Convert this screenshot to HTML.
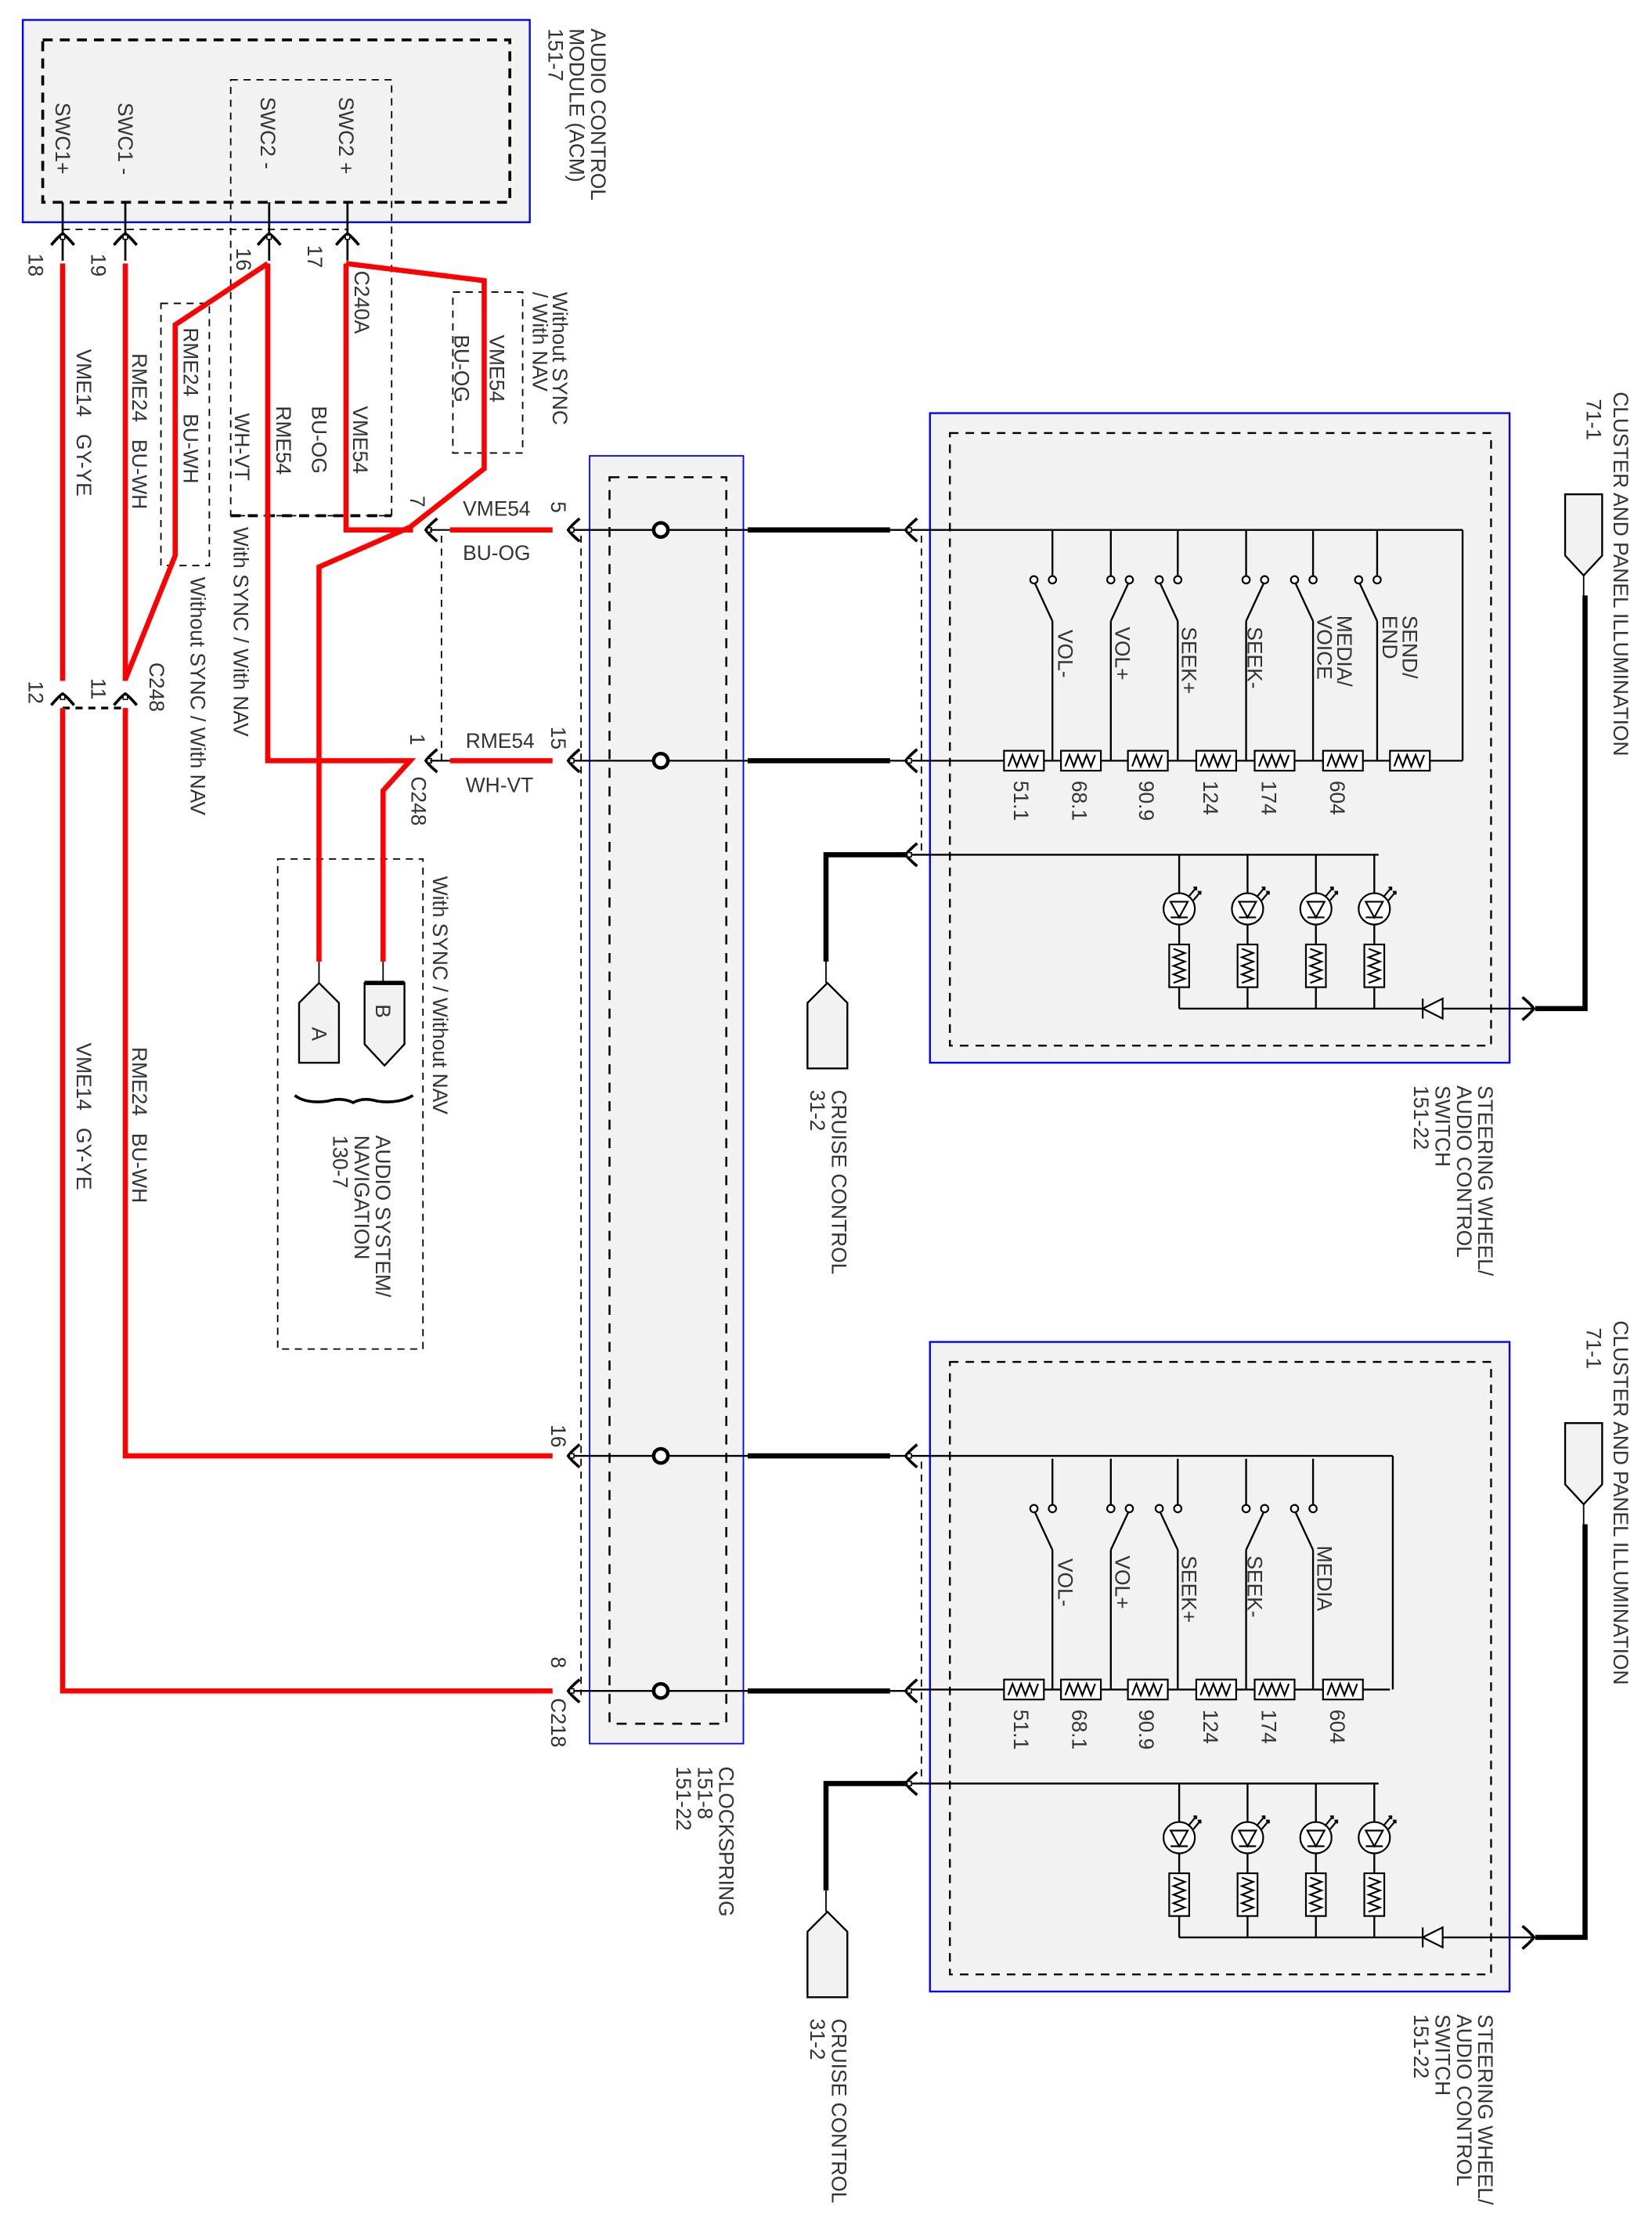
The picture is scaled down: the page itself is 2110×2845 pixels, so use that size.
<!DOCTYPE html>
<html><head><meta charset="utf-8"><style>
html,body{margin:0;padding:0;background:#fff}
svg{display:block}
text{font-family:"Liberation Sans",sans-serif;fill:#333;font-size:14.5px;white-space:pre}
</style></head><body>
<svg width="2110" height="2845" viewBox="0 0 1160 1564" preserveAspectRatio="none" xmlns="http://www.w3.org/2000/svg">
<defs>
<g id="rh"><rect x="-14" y="-7" width="28" height="14" fill="#fff" stroke="#000" stroke-width="1.2"/><polyline points="-11,4 -8,-4 -5,4 -2,-4 1,4 4,-4 7,4 10,-4" fill="none" stroke="#000" stroke-width="1.2"/></g>
<g id="rv"><rect x="-7" y="-15" width="14" height="30" fill="#fff" stroke="#000" stroke-width="1.2"/><polyline points="-4,-12 4,-9 -4,-6 4,-3 -4,0 4,3 -4,6 4,9 -4,12" fill="none" stroke="#000" stroke-width="1.2"/></g>
<g id="led"><circle r="11" fill="#fff" stroke="#000" stroke-width="1.2"/><polygon points="-6,-5 6,-5 0,6" fill="#fff" stroke="#000" stroke-width="1.2"/><line x1="-6" y1="6" x2="6" y2="6" stroke="#000" stroke-width="1.2"/><path d="M7,-9 L12,-15 M10,-6 L15,-12 M10,-15 L12,-15 L12,-13 M13,-12 L15,-12 L15,-10" stroke="#000" stroke-width="1.2" fill="none"/></g>
<g id="fl"><path d="M7,-8 Q1,-3 -1,0 Q1,3 7,8" fill="none" stroke="#000" stroke-width="2"/><rect x="0" y="-1.5" width="3" height="3" fill="#fff" stroke="#000" stroke-width=".8"/></g>
<g id="fr"><path d="M-7,-8 Q-1,-3 1,0 Q-1,3 -7,8" fill="none" stroke="#000" stroke-width="2"/></g>
<g id="fu"><path d="M-8,7 Q-3,1 0,-1 Q3,1 8,7" fill="none" stroke="#000" stroke-width="2"/><rect x="-1.5" y="0" width="3" height="3" fill="#fff" stroke="#000" stroke-width=".8"/></g>
</defs>

<!-- ACM -->
<rect x="16" y="14" width="356" height="142" fill="#f2f2f2" stroke="#0000ff" stroke-width="1.3"/>
<rect x="30" y="28" width="328" height="114" fill="none" stroke="#000" stroke-width="2" stroke-dasharray="7,5"/>
<rect x="162" y="56" width="113" height="306" fill="none" stroke="#000" stroke-width="1" stroke-dasharray="5,4"/>
<line x1="162" y1="362" x2="275" y2="362" stroke="#000" stroke-width="2" stroke-dasharray="7,5"/>
<g stroke="#000" stroke-width="1.5"><line x1="44" y1="142" x2="44" y2="183"/><line x1="88" y1="142" x2="88" y2="183"/><line x1="189" y1="142" x2="189" y2="183"/><line x1="244" y1="142" x2="244" y2="183"/></g>
<line x1="44" y1="161" x2="244" y2="161" stroke="#000" stroke-width="1" stroke-dasharray="5,4"/>
<use href="#fu" x="44" y="165"/><use href="#fu" x="88" y="165"/><use href="#fu" x="189" y="165"/><use href="#fu" x="244" y="165"/>
<g transform="translate(39,72) rotate(90)"><text>SWC1+</text></g>
<g transform="translate(83,72) rotate(90)"><text>SWC1 -</text></g>
<g transform="translate(183,68) rotate(90)"><text>SWC2 -</text></g>
<g transform="translate(238,68) rotate(90)"><text>SWC2 +</text></g>
<g transform="translate(415,20) rotate(90)"><text>AUDIO CONTROL</text></g>
<g transform="translate(400,20) rotate(90)"><text>MODULE (ACM)</text></g>
<g transform="translate(385,20) rotate(90)"><text>151-7</text></g>
<g transform="translate(20,178) rotate(90)"><text font-size="12">18</text></g>
<g transform="translate(64,178) rotate(90)"><text font-size="12">19</text></g>
<g transform="translate(166,174) rotate(90)"><text font-size="12">16</text></g>
<g transform="translate(216,172) rotate(90)"><text font-size="12">17</text></g>

<!-- dashed option boxes -->
<g fill="none" stroke="#000" stroke-width="1" stroke-dasharray="5,4">
<rect x="113" y="213" width="34" height="184"/>
<rect x="318" y="205" width="49" height="113"/>
<rect x="195" y="603" width="102" height="344"/>
<line x1="44" y1="497" x2="88" y2="497" stroke-width="1.8"/>
<line x1="310" y1="376" x2="310" y2="534"/>
<line x1="408" y1="376" x2="408" y2="1190"/>
<line x1="647" y1="376" x2="647" y2="600"/>
<line x1="647" y1="1026" x2="647" y2="1252"/>
</g>

<!-- red wires -->
<g fill="none" stroke="#ff0000" stroke-width="3.6" stroke-linejoin="miter">
<polyline points="44,185 44,478"/>
<polyline points="44,497 44,1187 388,1187"/>
<polyline points="88,185 88,478"/>
<polyline points="88,497 88,1022 388,1022"/>
<polyline points="188,185 123,228 123,390 88,477"/>
<polyline points="188,185 188,534 288,534 269,555 269,675"/>
<polyline points="243,185 243,372 290,372"/>
<polyline points="243,185 340,197 340,329 288,370 224,398 224,675"/>
<line x1="316" y1="372" x2="388" y2="372"/>
<line x1="316" y1="534" x2="388" y2="534"/>
</g>
<use href="#fu" x="44" y="488"/><use href="#fu" x="88" y="488"/>
<use href="#fl" x="300" y="372"/><use href="#fl" x="300" y="534"/>
<line x1="302" y1="372" x2="316" y2="372" stroke="#000" stroke-width="1.2"/>
<line x1="302" y1="534" x2="316" y2="534" stroke="#000" stroke-width="1.2"/>

<!-- red region labels -->
<g transform="translate(54,245) rotate(90)"><text>VME14   GY-YE</text></g>
<g transform="translate(93,248) rotate(90)"><text>RME24   BU-WH</text></g>
<g transform="translate(129,230) rotate(90)"><text>RME24   BU-WH</text></g>
<g transform="translate(165,290) rotate(90)"><text>WH-VT</text></g>
<g transform="translate(194,285) rotate(90)"><text>RME54</text></g>
<g transform="translate(219,285) rotate(90)"><text>BU-OG</text></g>
<g transform="translate(248,285) rotate(90)"><text>VME54</text></g>
<g transform="translate(249,190) rotate(90)"><text>C240A</text></g>
<g transform="translate(344,235) rotate(90)"><text>VME54</text></g>
<g transform="translate(319,235) rotate(90)"><text>BU-OG</text></g>
<g transform="translate(388,205) rotate(90)"><text>Without SYNC</text></g>
<g transform="translate(374,205) rotate(90)"><text>/ With NAV</text></g>
<g transform="translate(134,405) rotate(90)"><text>Without SYNC / With NAV</text></g>
<g transform="translate(164,370) rotate(90)"><text>With SYNC / With NAV</text></g>
<g transform="translate(105,465) rotate(90)"><text>C248</text></g>
<g transform="translate(289,545) rotate(90)"><text>C248</text></g>
<g transform="translate(20,478) rotate(90)"><text font-size="12">12</text></g>
<g transform="translate(64,476) rotate(90)"><text font-size="12">11</text></g>
<g transform="translate(54,732) rotate(90)"><text>VME14   GY-YE</text></g>
<g transform="translate(93,735) rotate(90)"><text>RME24   BU-WH</text></g>
<text x="325" y="362">VME54</text>
<text x="325" y="393">BU-OG</text>
<text x="327" y="525">RME54</text>
<text x="327" y="556">WH-VT</text>
<g transform="translate(288,348) rotate(90)"><text font-size="12">7</text></g>
<g transform="translate(387,352) rotate(90)"><text font-size="12">5</text></g>
<g transform="translate(288,515) rotate(90)"><text font-size="12">1</text></g>
<g transform="translate(387,510) rotate(90)"><text font-size="12">15</text></g>
<g transform="translate(387,1000) rotate(90)"><text font-size="12">16</text></g>
<g transform="translate(387,1163) rotate(90)"><text font-size="12">8</text></g>
<g transform="translate(387,1192) rotate(90)"><text font-size="13">C218</text></g>

<!-- A / B connectors -->
<line x1="224" y1="675" x2="224" y2="690" stroke="#000" stroke-width="1"/>
<line x1="269" y1="675" x2="269" y2="690" stroke="#000" stroke-width="1"/>
<polygon points="210,704 224,690 238,704 238,746 210,746" fill="#f2f2f2" stroke="#000" stroke-width="1.3"/>
<polygon points="256,690 284,690 284,733 270,748 256,733" fill="#f2f2f2" stroke="#000" stroke-width="1.3"/>
<line x1="256" y1="690" x2="284" y2="690" stroke="#000" stroke-width="3"/>
<g transform="translate(219,721) rotate(90)"><text font-size="12">A</text></g>
<g transform="translate(264,705) rotate(90)"><text font-size="12">B</text></g>
<path d="M207,769 Q215,775 230,773 Q240,770 248,774 Q255,770 265,773 Q280,775 290,769" fill="none" stroke="#000" stroke-width="2"/>
<g transform="translate(264,797) rotate(90)"><text>AUDIO SYSTEM/</text></g>
<g transform="translate(249,797) rotate(90)"><text>NAVIGATION</text></g>
<g transform="translate(234,797) rotate(90)"><text>130-7</text></g>
<g transform="translate(304,615) rotate(90)"><text>With SYNC / Without NAV</text></g>

<!-- Clockspring -->
<rect x="414" y="320" width="108" height="904" fill="#f2f2f2" stroke="#0000ff" stroke-width="1"/>
<rect x="428" y="335" width="82" height="875" fill="none" stroke="#000" stroke-width="1.4" stroke-dasharray="7,6"/>
<g transform="translate(505,1240) rotate(90)"><text>CLOCKSPRING</text></g>
<g transform="translate(490,1240) rotate(90)"><text>151-8</text></g>
<g transform="translate(475,1240) rotate(90)"><text>151-22</text></g>

<g id="cs">
<line x1="400" y1="372" x2="525" y2="372" stroke="#000" stroke-width="1.3"/>
<line x1="525" y1="372" x2="625" y2="372" stroke="#000" stroke-width="3.6"/>
<line x1="625" y1="372" x2="640" y2="372" stroke="#000" stroke-width="1.3"/>
<circle cx="464" cy="372" r="5" fill="#fff" stroke="#000" stroke-width="2.5"/>
<use href="#fl" x="400" y="372"/><use href="#fl" x="637" y="372"/>
</g>
<use href="#cs" y="162"/><use href="#cs" y="650"/><use href="#cs" y="815"/>

<!-- Switch module 1 -->
<g id="mod">
<rect x="653" y="290" width="407" height="456" fill="#f2f2f2" stroke="#0000ff" stroke-width="1.3"/>
<rect x="667" y="304" width="380" height="430" fill="none" stroke="#000" stroke-width="1.3" stroke-dasharray="6,5"/>
<line x1="640" y1="600" x2="968" y2="600" stroke="#000" stroke-width="1.3"/>
<use href="#fl" x="637" y="600"/>
<polyline points="637,600 580,600 580,675" fill="none" stroke="#000" stroke-width="3.6"/>
<line x1="580" y1="675" x2="580" y2="690" stroke="#000" stroke-width="1"/>
<polygon points="567,704 581,690 595,704 595,750 567,750" fill="#f2f2f2" stroke="#000" stroke-width="1.3"/>
<g transform="translate(584,765) rotate(90)"><text>CRUISE CONTROL</text></g>
<g transform="translate(569,765) rotate(90)"><text>31-2</text></g>
<g stroke="#000" stroke-width="1.3" fill="none">
<line x1="828" y1="600" x2="828" y2="708"/><line x1="876" y1="600" x2="876" y2="708"/><line x1="924" y1="600" x2="924" y2="708"/><line x1="965" y1="600" x2="965" y2="708"/>
<line x1="828" y1="708" x2="1076" y2="708"/>
</g>
<use href="#led" x="828" y="638"/><use href="#led" x="876" y="638"/><use href="#led" x="924" y="638"/><use href="#led" x="965" y="638"/>
<use href="#rv" x="828" y="678"/><use href="#rv" x="876" y="678"/><use href="#rv" x="924" y="678"/><use href="#rv" x="965" y="678"/>
<polygon points="1013,701 1013,715 999,708" fill="#fff" stroke="#000" stroke-width="1.2"/><line x1="999" y1="701" x2="999" y2="715" stroke="#000" stroke-width="1.2"/>
<use href="#fr" x="1076" y="708"/>
<polyline points="1078,708 1113,708 1113,418" fill="none" stroke="#000" stroke-width="3.6"/>
<line x1="1112" y1="404" x2="1112" y2="420" stroke="#000" stroke-width="1"/>
<polygon points="1099,347 1125,347 1125,390 1112,404 1099,390" fill="#f2f2f2" stroke="#000" stroke-width="1.3"/>
<g transform="translate(1133,275) rotate(90)"><text>CLUSTER AND PANEL ILLUMINATION</text></g>
<g transform="translate(1114,280) rotate(90)"><text>71-1</text></g>
<g transform="translate(1038,762) rotate(90)"><text>STEERING WHEEL/</text></g>
<g transform="translate(1023,762) rotate(90)"><text>AUDIO CONTROL</text></g>
<g transform="translate(1008,762) rotate(90)"><text>SWITCH</text></g>
<g transform="translate(993,762) rotate(90)"><text>151-22</text></g>
<g stroke="#000" stroke-width="1.3" fill="none">
<line x1="640" y1="534" x2="976" y2="534"/>
<line x1="739" y1="372" x2="739" y2="405"/><line x1="739" y1="436" x2="739" y2="534"/><line x1="739" y1="436" x2="726" y2="408"/>
<line x1="780" y1="372" x2="780" y2="405"/><line x1="780" y1="436" x2="780" y2="534"/><line x1="780" y1="436" x2="793" y2="408"/>
<line x1="827" y1="372" x2="827" y2="405"/><line x1="827" y1="436" x2="827" y2="534"/><line x1="827" y1="436" x2="814" y2="408"/>
<line x1="875" y1="372" x2="875" y2="405"/><line x1="875" y1="436" x2="875" y2="534"/><line x1="875" y1="436" x2="888" y2="408"/>
<line x1="922" y1="372" x2="922" y2="405"/><line x1="922" y1="436" x2="922" y2="534"/><line x1="922" y1="436" x2="909" y2="408"/>
</g>
<g fill="#fff" stroke="#000" stroke-width="1.2">
<circle cx="739" cy="407" r="2.6"/><circle cx="726" cy="407" r="2.6"/>
<circle cx="780" cy="407" r="2.6"/><circle cx="793" cy="407" r="2.6"/>
<circle cx="827" cy="407" r="2.6"/><circle cx="814" cy="407" r="2.6"/>
<circle cx="875" cy="407" r="2.6"/><circle cx="888" cy="407" r="2.6"/>
<circle cx="922" cy="407" r="2.6"/><circle cx="909" cy="407" r="2.6"/>
</g>
<use href="#rh" x="719" y="534"/><use href="#rh" x="759" y="534"/><use href="#rh" x="806" y="534"/><use href="#rh" x="854" y="534"/><use href="#rh" x="895" y="534"/><use href="#rh" x="943" y="534"/>
<g transform="translate(743,442) rotate(90)"><text>VOL-</text></g>
<g transform="translate(783,440) rotate(90)"><text>VOL+</text></g>
<g transform="translate(830,440) rotate(90)"><text>SEEK+</text></g>
<g transform="translate(876,440) rotate(90)"><text>SEEK-</text></g>
<g transform="translate(712,548) rotate(90)"><text>51.1</text></g>
<g transform="translate(753,548) rotate(90)"><text>68.1</text></g>
<g transform="translate(800,548) rotate(90)"><text>90.9</text></g>
<g transform="translate(845,548) rotate(90)"><text>124</text></g>
<g transform="translate(886,548) rotate(90)"><text>174</text></g>
<g transform="translate(934,548) rotate(90)"><text>604</text></g>
</g>
<!-- module 1 extras -->
<g stroke="#000" stroke-width="1.3" fill="none">
<line x1="640" y1="372" x2="1027" y2="372"/><line x1="1027" y1="372" x2="1027" y2="534"/><line x1="976" y1="534" x2="1027" y2="534"/>
<line x1="967" y1="372" x2="967" y2="405"/><line x1="967" y1="436" x2="967" y2="534"/><line x1="967" y1="436" x2="954" y2="408"/>
</g>
<circle cx="967" cy="407" r="2.6" fill="#fff" stroke="#000" stroke-width="1.2"/><circle cx="954" cy="407" r="2.6" fill="#fff" stroke="#000" stroke-width="1.2"/>
<use href="#rh" x="990" y="534"/>
<g transform="translate(939,432) rotate(90)"><text>MEDIA/</text></g>
<g transform="translate(925,432) rotate(90)"><text>VOICE</text></g>
<g transform="translate(985,432) rotate(90)"><text>SEND/</text></g>
<g transform="translate(971,432) rotate(90)"><text>END</text></g>

<!-- Switch module 2 -->
<use href="#mod" y="652"/>
<g stroke="#000" stroke-width="1.3" fill="none">
<line x1="640" y1="1022" x2="978" y2="1022"/><line x1="978" y1="1022" x2="978" y2="1186"/>
</g>
<g transform="translate(925,1085) rotate(90)"><text>MEDIA</text></g>
</svg>
</body></html>
